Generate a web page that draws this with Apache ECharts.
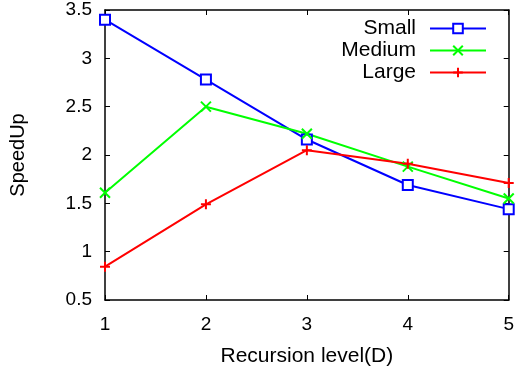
<!DOCTYPE html>
<html>
<head>
<meta charset="utf-8">
<script src="https://cdn.jsdelivr.net/npm/echarts@6/dist/echarts.min.js"></script>
<style>html,body{margin:0;padding:0;background:#fff}#c{width:517px;height:374px}</style>
</head>
<body>
<div id="c"></div>
<script>
var levels = [1, 2, 3, 4, 5];
var small = [3.40, 2.78, 2.16, 1.69, 1.44];
var medium = [1.61, 2.50, 2.22, 1.88, 1.55];
var large = [0.845, 1.49, 2.05, 1.91, 1.71];
var seriesNames = ['Small', 'Medium', 'Large'];

function pairs(vals) { return levels.map(function (x, i) { return [x, vals[i]]; }); }

var font = 'Liberation Sans, Arial, Helvetica, sans-serif';
var chart = echarts.init(document.getElementById('c'), null, { renderer: 'canvas' });
var tick = { show: true, inside: true, length: 5, lineStyle: { color: '#000', width: 1 } };
var axLine = { show: true, lineStyle: { color: '#000', width: 1.5 } };
chart.setOption({
  animation: false,
  grid: { left: 105, right: 7, top: 10, bottom: 74, containLabel: false, show: false },
  legend: {
    orient: 'vertical', right: 25, top: 13, align: 'right',
    itemWidth: 56, itemHeight: 12, itemGap: 1,
    textStyle: { fontFamily: font, fontSize: 21, color: '#000', lineHeight: 20, padding: [0, 9, 0, 0] },
    data: seriesNames
  },
  xAxis: [{
    type: 'value', min: 1, max: 5, interval: 1, position: 'bottom',
    name: 'Recursion level(D)', nameLocation: 'middle', nameGap: 46,
    nameTextStyle: { fontFamily: font, fontSize: 21, color: '#000' },
    axisLine: axLine, axisTick: tick, splitLine: { show: false },
    axisLabel: { fontFamily: font, fontSize: 19, color: '#000', margin: 15 }
  }, {
    type: 'value', min: 1, max: 5, interval: 1, position: 'top',
    axisLine: axLine, axisTick: tick, splitLine: { show: false },
    axisLabel: { show: false }
  }],
  yAxis: [{
    type: 'value', min: 0.5, max: 3.5, interval: 0.5, position: 'left',
    name: 'SpeedUp', nameLocation: 'middle', nameGap: 77,
    nameTextStyle: { fontFamily: font, fontSize: 20, color: '#000' },
    axisLine: axLine, axisTick: tick, splitLine: { show: false },
    axisLabel: { fontFamily: font, fontSize: 19, color: '#000', margin: 13 }
  }, {
    type: 'value', min: 0.5, max: 3.5, interval: 0.5, position: 'right',
    axisLine: axLine, axisTick: tick, splitLine: { show: false },
    axisLabel: { show: false }
  }],
  series: [{
    name: seriesNames[0], type: 'line', data: pairs(small),
    symbol: 'emptyRect', symbolSize: 10, showAllSymbol: true,
    lineStyle: { color: '#0000ff', width: 2 },
    itemStyle: { color: '#0000ff', borderColor: '#0000ff', borderWidth: 2 }
  }, {
    name: seriesNames[1], type: 'line', data: pairs(medium),
    symbol: 'path://M0,0L10,10M10,0L0,10', symbolSize: 10,
    lineStyle: { color: '#00ff00', width: 2 },
    itemStyle: { color: '#00ff00', borderColor: '#00ff00', borderWidth: 2 }
  }, {
    name: seriesNames[2], type: 'line', data: pairs(large),
    symbol: 'path://M5,0L5,10M0,5L10,5', symbolSize: 10,
    lineStyle: { color: '#ff0000', width: 2 },
    itemStyle: { color: '#ff0000', borderColor: '#ff0000', borderWidth: 2 }
  }]
});
</script>
</body>
</html>
